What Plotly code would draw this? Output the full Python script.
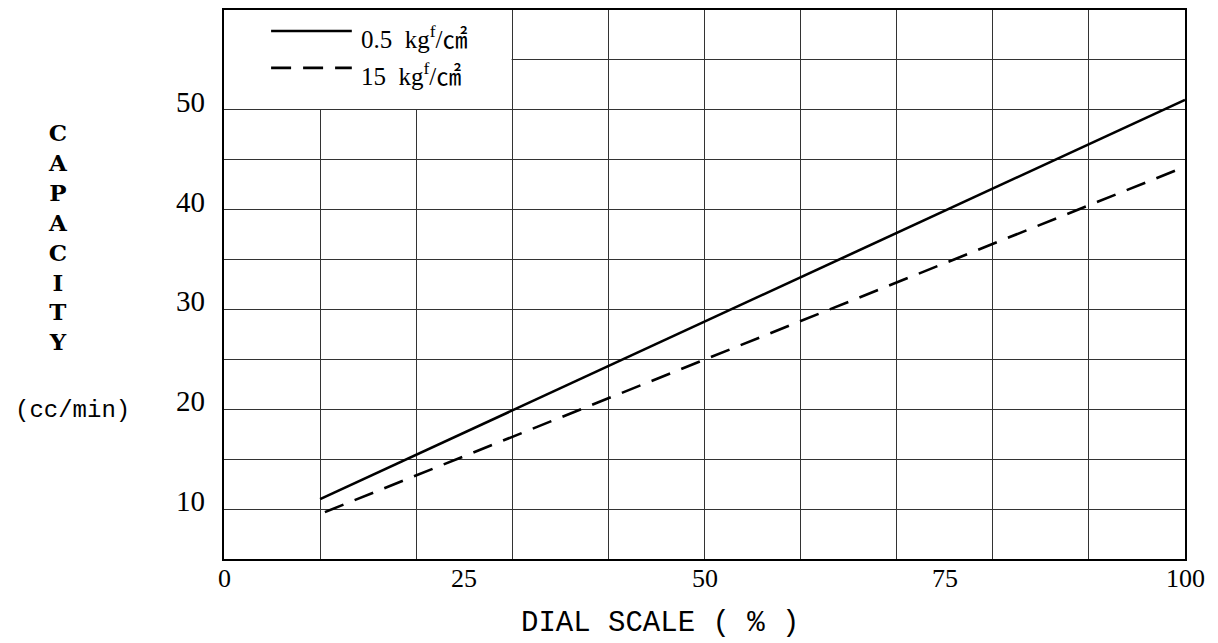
import plotly.graph_objects as go

# Data
dial_solid = [10, 100]
cap_solid = [11.0, 51.0]
dial_dashed = [10.5, 100]
cap_dashed = [9.7, 44.3]
series_names = ["0.5  kg<sup>f</sup>/㎠", "15  kg<sup>f</sup>/㎠"]
x_ticks = [0, 25, 50, 75, 100]
y_ticks = [10, 20, 30, 40, 50]

SERIF = "Liberation Serif, Noto Sans CJK JP, DejaVu Serif, serif"
TITLE = "DejaVu Serif, Liberation Mono, monospace"

fig = go.Figure()
fig.add_trace(go.Scatter(x=dial_solid, y=cap_solid, mode="lines", name=series_names[0],
                         line=dict(color="black", width=2.6), showlegend=False))
fig.add_trace(go.Scatter(x=dial_dashed, y=cap_dashed, mode="lines", name=series_names[1],
                         line=dict(color="black", width=2.6, dash="20px,12px"), showlegend=False))

# White box hiding the grid behind the legend
fig.add_shape(type="rect", xref="x", yref="y", x0=0, x1=29.93, y0=50.07, y1=60,
              fillcolor="white", line=dict(width=0), layer="between")

# Custom legend samples
fig.add_shape(type="line", xref="x", yref="y", x0=4.9, x1=13.3, y0=57.9, y1=57.9,
              line=dict(color="black", width=2.6))
fig.add_shape(type="line", xref="x", yref="y", x0=4.9, x1=13.3, y0=54.2, y1=54.2,
              line=dict(color="black", width=2.6, dash="20px,12px"))
fig.add_annotation(x=14.0, y=57.3, xref="x", yref="y", text=series_names[0], showarrow=False,
                   xanchor="left", yanchor="middle", font=dict(family=SERIF, size=25, color="black"))
fig.add_annotation(x=14.0, y=53.6, xref="x", yref="y", text=series_names[1], showarrow=False,
                   xanchor="left", yanchor="middle", font=dict(family=SERIF, size=25, color="black"))

# X tick labels drawn at the axis values
for v in x_ticks:
    fig.add_annotation(x=v, y=-0.036, xref="x", yref="paper", text=str(v), showarrow=False,
                       xanchor="center", yanchor="middle",
                       font=dict(family=SERIF, size=26, color="black"))

# Y tick labels drawn at the axis values (slightly raised, as in the original)
for v in y_ticks:
    fig.add_annotation(x=-0.018, y=v, xref="paper", yref="y", text=str(v), showarrow=False,
                       xanchor="right", yanchor="middle", yshift=8,
                       font=dict(family=SERIF, size=29, color="black"))

# Y-axis title (stacked letters)
fig.add_annotation(x=-0.173, y=0.805, xref="paper", yref="paper",
                   text="C<br>A<br>P<br>A<br>C<br>I<br>T<br>Y", showarrow=False,
                   xanchor="center", yanchor="top",
                   font=dict(family=TITLE, size=23, color="black", weight="bold"))
fig.add_annotation(x=-0.158, y=0.271, xref="paper", yref="paper",
                   text="(cc/min)", showarrow=False, xanchor="center", yanchor="middle",
                   font=dict(family="Liberation Mono, monospace", size=24, color="black"))
fig.add_annotation(x=0.454, y=-0.118, xref="paper", yref="paper",
                   text="DIAL SCALE ( % )", showarrow=False, xanchor="center", yanchor="middle",
                   font=dict(family="Liberation Mono, monospace", size=29, color="black"))

fig.update_xaxes(range=[0, 100], tick0=0, dtick=10, showticklabels=False,
                 showgrid=True, gridcolor="#333", gridwidth=1,
                 showline=True, linecolor="black", linewidth=1.5, mirror=True,
                 ticks="", zeroline=False)
fig.update_yaxes(range=[5, 60], tick0=0, dtick=5, showticklabels=False,
                 showgrid=True, gridcolor="#333", gridwidth=1,
                 showline=True, linecolor="black", linewidth=1.5, mirror=True,
                 ticks="", zeroline=False)

fig.update_layout(width=1210, height=635, plot_bgcolor="white", paper_bgcolor="white",
                  margin=dict(l=216, r=33, t=2, b=84, autoexpand=False), showlegend=False)

fig.write_html("out.html")
